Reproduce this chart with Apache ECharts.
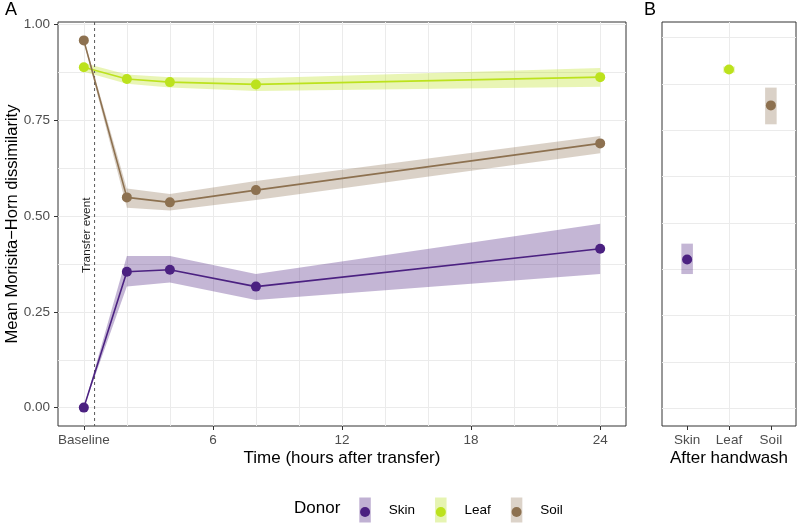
<!DOCTYPE html>
<html><head><meta charset="utf-8">
<script src="https://cdn.jsdelivr.net/npm/echarts@6/dist/echarts.min.js"></script>
<style>html,body{margin:0;padding:0;background:#fff}#c{width:797px;height:525px}</style>
</head><body><div id="c"></div>
<script>
// ---------- data ----------
const timeHours = [0, 2, 4, 8, 24];
const xTickValues = [0, 6, 12, 18, 24];
const xTickLabels = ['Baseline', '6', '12', '18', '24'];
const yTickValues = [0, 0.25, 0.5, 0.75, 1];

const skinMean  = [0.000, 0.355, 0.360, 0.316, 0.415];
const skinLower = [0.000, 0.316, 0.327, 0.281, 0.349];
const skinUpper = [0.000, 0.396, 0.396, 0.349, 0.480];

const leafMean  = [0.889, 0.858, 0.850, 0.844, 0.863];
const leafLower = [0.877, 0.846, 0.836, 0.827, 0.838];
const leafUpper = [0.900, 0.870, 0.863, 0.860, 0.887];

const soilMean  = [0.959, 0.549, 0.536, 0.568, 0.690];
const soilLower = [0.955, 0.522, 0.515, 0.542, 0.664];
const soilUpper = [0.963, 0.572, 0.558, 0.592, 0.709];

const handwashCats  = ['Skin', 'Leaf', 'Soil'];
const handwashMean  = [0.401, 0.914, 0.817];
const handwashLower = [0.362, 0.905, 0.766];
const handwashUpper = [0.444, 0.922, 0.865];

const transferHour = 0.5;
const transferLabelY = 0.45;
const transferText = 'Transfer event';

const donors = ['Skin', 'Leaf', 'Soil'];

// ---------- styling ----------
const FONT = '"Liberation Sans", Arial, Helvetica, sans-serif';
const lineColors = { Skin: '#4B2181', Leaf: '#BCE21D', Soil: '#8D7150' };
const bandColors = { Skin: 'rgba(75,33,129,0.33)', Leaf: 'rgba(188,226,29,0.33)', Soil: 'rgba(141,113,80,0.32)' };
const bandSolid  = { Skin: '#C0B1D3', Leaf: '#E6F4B2', Soil: '#DCD3C9' };
const series = { Skin: [skinMean, skinLower, skinUpper], Leaf: [leafMean, leafLower, leafUpper], Soil: [soilMean, soilLower, soilUpper] };

const xMinA = -1.2, xMaxA = 25.2;
const yMinA = -0.048, yMaxA = 1.007;
const yMinB = -0.048, yMaxB = 1.042;
const xMinB = 0.4, xMaxB = 3.6;
const xGridStep = 2, yGridStep = 0.125;

const GRID = '#ebebeb', BORDER = '#333333', TICKTXT = '#4d4d4d';
const tickFont = 13.5, titleFont = 17;

function hiddenGridAxis(extra) {
  return Object.assign({
    type: 'value', axisLine: { show: false, onZero: false }, axisTick: { show: false }, axisLabel: { show: false },
    splitLine: { show: true, showMinLine: false, showMaxLine: false, lineStyle: { color: GRID, width: 1 } }
  }, extra);
}

const chart = echarts.init(document.getElementById('c'), null, { renderer: 'canvas' });

const allSeries = [];
// Panel A bands
donors.forEach(d => {
  const [m, lo, hi] = series[d];
  allSeries.push({
    name: d, type: 'custom', xAxisIndex: 0, yAxisIndex: 0, z: 2,
    data: timeHours.map((t, i) => [t, lo[i], hi[i]]),
    encode: { x: 0, y: [1, 2] },
    renderItem: (params, api) => {
      if (params.dataIndex !== 0) return null;
      const pts = [];
      timeHours.forEach((t, i) => pts.push(api.coord([t, hi[i]])));
      for (let i = timeHours.length - 1; i >= 0; i--) pts.push(api.coord([timeHours[i], lo[i]]));
      return { type: 'polygon', shape: { points: pts }, style: { fill: bandColors[d] }, silent: true };
    }
  });
});
// Transfer event
allSeries.push({
  name: 'transfer', type: 'custom', xAxisIndex: 0, yAxisIndex: 0, z: 3,
  data: [[transferHour, transferLabelY]],
  renderItem: (params, api) => {
    const top = api.coord([transferHour, yMaxA]);
    const bot = api.coord([transferHour, yMinA]);
    const mid = api.coord([transferHour, transferLabelY]);
    return { type: 'group', children: [
      { type: 'line', shape: { x1: top[0], y1: top[1], x2: bot[0], y2: bot[1] }, style: { stroke: '#5a5a5a', lineWidth: 1, lineDash: [3, 3] } },
      { type: 'text', x: mid[0] - 1.5, y: mid[1], rotation: Math.PI / 2,
        style: { text: transferText, align: 'center', verticalAlign: 'bottom', fontSize: 11.8, fill: '#1a1a1a', fontFamily: FONT } }
    ]};
  }
});
// Panel A lines
donors.forEach(d => {
  const [m] = series[d];
  allSeries.push({
    name: d + ' mean', type: 'line', xAxisIndex: 0, yAxisIndex: 0, z: 4,
    data: timeHours.map((t, i) => [t, m[i]]),
    symbol: 'circle', symbolSize: 10, showSymbol: true,
    lineStyle: { color: lineColors[d], width: 1.6 },
    itemStyle: { color: lineColors[d] },
    emphasis: { disabled: true }, animation: false
  });
});
// Panel B bands
allSeries.push({
  name: 'handwash band', type: 'custom', xAxisIndex: 2, yAxisIndex: 2, z: 2,
  data: handwashCats.map((c, i) => [i + 1, handwashLower[i], handwashUpper[i]]),
  encode: { x: 0, y: [1, 2] },
  renderItem: (params, api) => {
    const i = params.dataIndex;
    const x = api.value(0);
    const p1 = api.coord([x - 0.138, api.value(2)]);
    const p2 = api.coord([x + 0.138, api.value(1)]);
    return { type: 'rect', shape: { x: p1[0], y: p1[1], width: p2[0] - p1[0], height: p2[1] - p1[1] },
      style: { fill: bandColors[handwashCats[i]] } };
  }
});
// Panel B points
allSeries.push({
  name: 'handwash mean', type: 'scatter', xAxisIndex: 2, yAxisIndex: 2, z: 4,
  data: handwashCats.map((c, i) => [i + 1, handwashMean[i]]),
  symbolSize: 10,
  itemStyle: { color: p => lineColors[handwashCats[p.dataIndex]], opacity: 1 },
  emphasis: { disabled: true }
});

const option = {
  animation: false,
  backgroundColor: '#ffffff',
  textStyle: { fontFamily: FONT },
  title: [
    { text: 'A', left: 5, top: 1, padding: 0, textStyle: { fontSize: 18, fontWeight: 'normal', color: '#000', fontFamily: FONT } },
    { text: 'B', left: 644, top: 1, padding: 0, textStyle: { fontSize: 18, fontWeight: 'normal', color: '#000', fontFamily: FONT } },
    { text: 'Donor', left: 294, top: 500, padding: 0, textStyle: { fontSize: titleFont, fontWeight: 'normal', color: '#000', fontFamily: FONT } }
  ],
  grid: [
    { left: 58, top: 22, width: 568, height: 404, show: true, borderColor: BORDER, borderWidth: 1, backgroundColor: 'transparent', outerBoundsMode: 'none' },
    { left: 662, top: 22, width: 134, height: 404, show: true, borderColor: BORDER, borderWidth: 1, backgroundColor: 'transparent', outerBoundsMode: 'none' }
  ],
  xAxis: [
    { type: 'value', gridIndex: 0, min: xMinA, max: xMaxA, position: 'bottom',
      axisLine: { show: false, onZero: false },
      axisTick: { show: true, customValues: xTickValues, length: 4, lineStyle: { color: BORDER } },
      axisLabel: { show: true, customValues: xTickValues, formatter: v => xTickLabels[xTickValues.indexOf(v)] ?? '',
        color: TICKTXT, fontSize: tickFont, margin: 7, fontFamily: FONT },
      splitLine: { show: false },
      name: 'Time (hours after transfer)', nameLocation: 'middle', nameGap: 24, nameMoveOverlap: false,
      nameTextStyle: { fontSize: titleFont, color: '#000', fontFamily: FONT } },
    hiddenGridAxis({ gridIndex: 0, min: xMinA, max: xMaxA, splitNumber: 13, position: 'top' }),
    { type: 'value', gridIndex: 1, min: xMinB, max: xMaxB, splitNumber: 3, position: 'bottom',
      axisLine: { show: false, onZero: false },
      axisTick: { show: true, customValues: [1, 2, 3], length: 4, lineStyle: { color: BORDER } },
      axisLabel: { show: true, customValues: [1, 2, 3], formatter: v => handwashCats[Math.round(v) - 1] ?? '',
        color: TICKTXT, fontSize: tickFont, margin: 7, fontFamily: FONT },
      splitLine: { show: true, showMinLine: false, showMaxLine: false, lineStyle: { color: GRID, width: 1 } },
      name: 'After handwash', nameLocation: 'middle', nameGap: 24, nameMoveOverlap: false,
      nameTextStyle: { fontSize: titleFont, color: '#000', fontFamily: FONT } }
  ],
  yAxis: [
    { type: 'value', gridIndex: 0, min: yMinA, max: yMaxA, position: 'left',
      axisLine: { show: false, onZero: false },
      axisTick: { show: true, customValues: yTickValues, length: 4, lineStyle: { color: BORDER } },
      axisLabel: { show: true, customValues: yTickValues, formatter: v => v.toFixed(2),
        color: TICKTXT, fontSize: tickFont, margin: 8, fontFamily: FONT },
      splitLine: { show: false },
      name: 'Mean Morisita\u2212Horn dissimilarity', nameLocation: 'middle', nameGap: 37, nameMoveOverlap: false,
      nameTextStyle: { fontSize: 16.5, color: '#000', fontFamily: FONT } },
    hiddenGridAxis({ gridIndex: 0, min: yMinA / yGridStep, max: yMaxA / yGridStep, splitNumber: 8, position: 'right' }),
    { type: 'value', gridIndex: 1, min: yMinB, max: yMaxB, show: false },
    hiddenGridAxis({ gridIndex: 1, min: yMinB / yGridStep, max: yMaxB / yGridStep, splitNumber: 8, position: 'right' })
  ],
  legend: [
    { left: 359.3, top: 497.5, padding: 0, orient: 'horizontal', selectedMode: false,
      itemWidth: 11.5, itemHeight: 25, itemGap: 20,
      data: donors.map(d => ({ name: d, icon: 'rect', itemStyle: { color: bandSolid[d] } })),
      textStyle: { fontSize: tickFont, color: '#000', fontFamily: FONT, padding: [0, 0, 0, 13] } },
    { left: 360.05, top: 505, padding: 0, orient: 'horizontal', selectedMode: false,
      itemWidth: 10, itemHeight: 10, itemGap: 21.5,
      data: donors.map(d => ({ name: d, icon: 'circle', itemStyle: { color: lineColors[d] } })),
      textStyle: { fontSize: tickFont, color: 'rgba(0,0,0,0)', fontFamily: FONT, padding: [0, 0, 0, 13] } }
  ],
  series: allSeries
};
chart.setOption(option);
</script></body></html>
